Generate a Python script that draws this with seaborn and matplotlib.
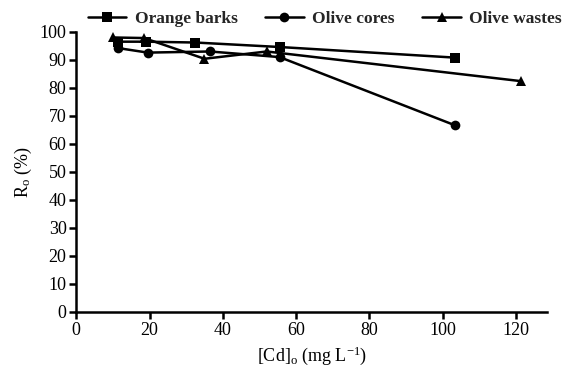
import pandas as pd
import matplotlib
matplotlib.use('Agg')
import matplotlib.pyplot as plt
import seaborn as sns

# Data
orange_x = [11.5, 19, 32.5, 55.5, 103.5]
orange_y = [96.5, 96.5, 96.2, 94.6, 90.8]
cores_x = [11.5, 19.5, 36.5, 55.5, 103.5]
cores_y = [94.2, 92.6, 93.0, 91.0, 66.6]
wastes_x = [10, 18.5, 35, 52, 121.5]
wastes_y = [98.0, 97.8, 90.4, 93.0, 82.4]
labels = ['Orange barks', 'Olive cores', 'Olive wastes']

data = pd.concat([
    pd.DataFrame({'x': orange_x, 'y': orange_y, 'Material': labels[0]}),
    pd.DataFrame({'x': cores_x, 'y': cores_y, 'Material': labels[1]}),
    pd.DataFrame({'x': wastes_x, 'y': wastes_y, 'Material': labels[2]}),
], ignore_index=True)

sns.set_theme(style="ticks")
plt.rcParams['font.family'] = ['Liberation Serif', 'DejaVu Serif']
plt.rcParams['mathtext.fontset'] = 'custom'
plt.rcParams['mathtext.rm'] = 'Liberation Serif'
plt.rcParams['mathtext.it'] = 'Liberation Serif:italic'
fontsize = 13

fig, ax = plt.subplots(figsize=(5.65, 3.75), dpi=100)
fig.subplots_adjust(left=0.135, right=0.968, bottom=0.168, top=0.915)

markers = {labels[0]: 's', labels[1]: 'o', labels[2]: '^'}
palette = {l: 'black' for l in labels}
sns.lineplot(data=data, x='x', y='y', hue='Material', style='Material',
             markers=markers, dashes=False, palette=palette, markersize=7,
             markeredgewidth=0, linewidth=1.8, ax=ax, sort=False)

ax.set_xlim(0, 128.5)
ax.set_ylim(0, 100)
ax.set_xticks(range(0, 121, 20))
ax.set_yticks(range(0, 101, 10))
for side in ['top', 'right']:
    ax.spines[side].set_visible(False)
for side in ['left', 'bottom']:
    ax.spines[side].set_linewidth(1.8)
    ax.spines[side].set_color('black')
ax.tick_params(width=1.8, length=5, pad=2, labelsize=fontsize, colors='black')
ax.set_xlabel(r'[Cd]$_{\rm o}$ (mg L$^{-1}$)', fontsize=fontsize, color='black')
ax.set_ylabel(r'R$_{\rm o}$ (%)', fontsize=fontsize, color='black')

handles, labs = ax.get_legend_handles_labels()
ax.get_legend().remove()
fig.legend(handles, labs, loc='upper center', bbox_to_anchor=(0.575, 1.012), ncol=3,
           frameon=False, handlelength=2.2, columnspacing=1.6,
           handletextpad=0.5, prop={'weight': 'bold', 'size': 12.5})

fig.savefig('out.png', dpi=100)
